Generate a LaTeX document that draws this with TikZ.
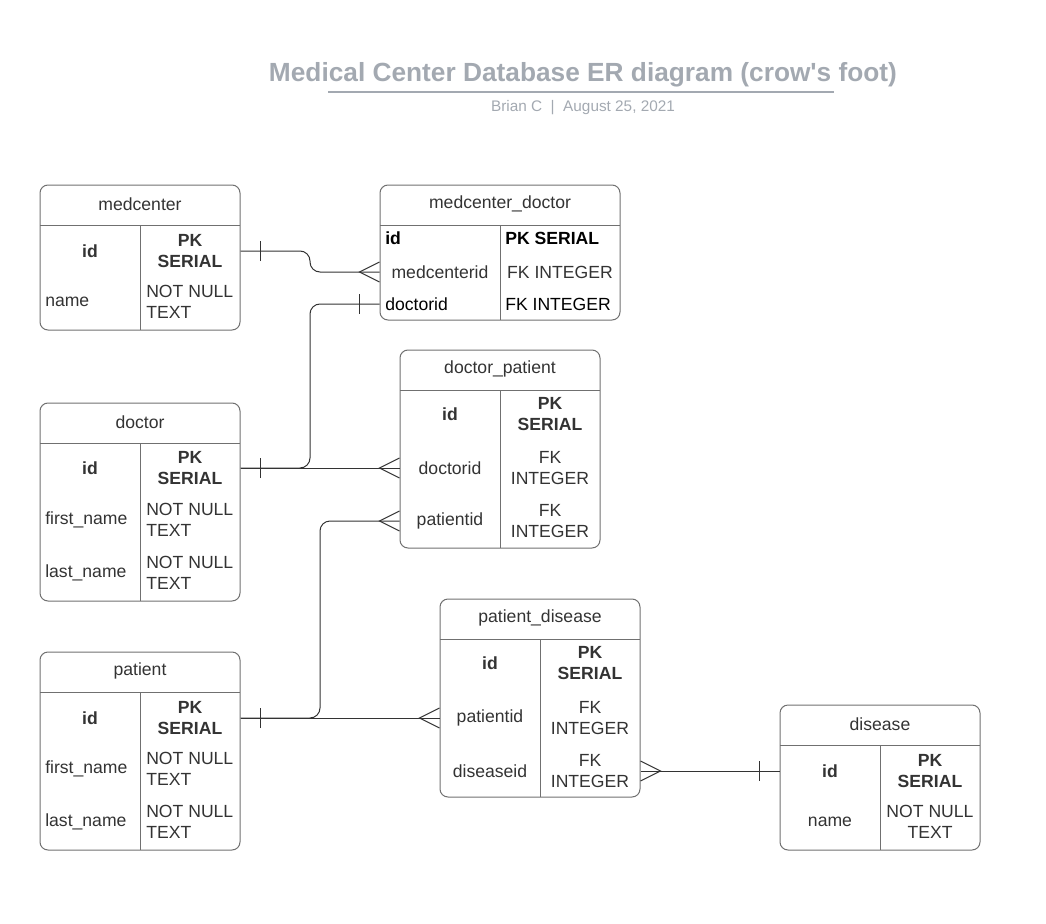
\documentclass[tikz,border=0pt]{standalone}
\usepackage{fontspec}
\setmainfont{Liberation Sans}
\usetikzlibrary{calc,fit}
\definecolor{titlegray}{HTML}{A3A9B1}
\definecolor{linegray}{HTML}{333333}
\definecolor{boxgray}{HTML}{707070}
\definecolor{textgray}{HTML}{333333}

\begin{document}
\begin{tikzpicture}[
      x=0.75pt,y=-0.75pt,
      font=\fontsize{13.2pt}{15.8pt}\selectfont,
      entity/.style={draw=boxgray,line width=0.75pt,rounded corners=6pt,inner sep=0pt},
      rule/.style={draw=boxgray,line width=0.75pt},
      field/.style={inner sep=0pt,text=textgray,align=center},
      key/.style={field,font=\fontsize{13.2pt}{15.8pt}\selectfont\bfseries},
      link/.style={draw=linegray,line width=0.75pt},
      bar/.pic={\draw[link] (-20,-10) -- (-20,10);},
      crowfoot/.pic={\draw[link] (0,-10) -- (-20,0) -- (0,10);},
      ]

    \useasboundingbox (0,0) rectangle (1046,924);

    % Title
    \node[font=\fontsize{19.7pt}{23pt}\selectfont\bfseries,text=titlegray] (title) at (583,75) {Medical Center Database ER diagram (crow\textquotesingle s foot)};
    \draw[titlegray,line width=1.5pt] (328,92) -- (834,92);
    \node[font=\fontsize{11.5pt}{13pt}\selectfont,text=titlegray] (byline) at (583,108) {Brian C~~|~~August 25, 2021};

    % Position the tables
    \node[entity,fit={(40,185) (240,330)}] (medcenter) {};
    \draw[rule] (40,225) -- (240,225) (140,225) -- (140,330);
    \node[field] (mc-head) at (140,204) {medcenter};
    \node[key] (mc-id) at (90,251) {id};
    \node[key] (mc-idt) at (190,251) {PK\\SERIAL};
    \node[field,anchor=west] (mc-name) at (45,302) {name};
    \node[field,anchor=west,align=left] (mc-namet) at (146,302) {NOT NULL\\TEXT};

    \node[entity,fit={(380,185) (620,320)}] (mcdoctor) {};
    \draw[rule] (380,225) -- (620,225) (500,225) -- (500,320);
    \node[field] (mcd-head) at (500,204) {medcenter\_doctor};
    \node[key,anchor=west,text=black] (mcd-id) at (385,238) {id};
    \node[key,anchor=west,text=black] (mcd-idt) at (505,238) {PK SERIAL};
    \node[field] (mcd-mcid) at (440,272) {medcenterid};
    \node[field] (mcd-mcidt) at (560,272) {FK INTEGER};
    \node[field,anchor=west,text=black] (mcd-docid) at (385,304) {doctorid};
    \node[field,anchor=west,text=black] (mcd-docidt) at (505,304) {FK INTEGER};

    \node[entity,fit={(400,350) (600,548)}] (docpatient) {};
    \draw[rule] (400,390) -- (600,390) (500,390) -- (500,548);
    \node[field] (dp-head) at (500,369) {doctor\_patient};
    \node[key] (dp-id) at (450,414) {id};
    \node[key] (dp-idt) at (550,414) {PK\\SERIAL};
    \node[field] (dp-docid) at (450,468) {doctorid};
    \node[field] (dp-docidt) at (550,468) {FK\\INTEGER};
    \node[field] (dp-patid) at (450,521) {patientid};
    \node[field] (dp-patidt) at (550,521) {FK\\INTEGER};

    \node[entity,fit={(40,403) (240,601)}] (doctor) {};
    \draw[rule] (40,443) -- (240,443) (140,443) -- (140,601);
    \node[field] (doc-head) at (140,422) {doctor};
    \node[key] (doc-id) at (90,468) {id};
    \node[key] (doc-idt) at (190,468) {PK\\SERIAL};
    \node[field,anchor=west] (doc-first) at (45,520) {first\_name};
    \node[field,anchor=west,align=left] (doc-firstt) at (146,520) {NOT NULL\\TEXT};
    \node[field,anchor=west] (doc-last) at (45,573) {last\_name};
    \node[field,anchor=west,align=left] (doc-lastt) at (146,573) {NOT NULL\\TEXT};

    \node[entity,fit={(40,652) (240,850)}] (patient) {};
    \draw[rule] (40,692) -- (240,692) (140,692) -- (140,850);
    \node[field] (pat-head) at (140,671) {patient};
    \node[key] (pat-id) at (90,718) {id};
    \node[key] (pat-idt) at (190,718) {PK\\SERIAL};
    \node[field,anchor=west] (pat-first) at (45,769) {first\_name};
    \node[field,anchor=west,align=left] (pat-firstt) at (146,769) {NOT NULL\\TEXT};
    \node[field,anchor=west] (pat-last) at (45,822) {last\_name};
    \node[field,anchor=west,align=left] (pat-lastt) at (146,822) {NOT NULL\\TEXT};

    \node[entity,fit={(440,599) (640,797)}] (patdisease) {};
    \draw[rule] (440,639) -- (640,639) (540,639) -- (540,797);
    \node[field] (pd-head) at (540,618) {patient\_disease};
    \node[key] (pd-id) at (490,663) {id};
    \node[key] (pd-idt) at (590,663) {PK\\SERIAL};
    \node[field] (pd-patid) at (490,718) {patientid};
    \node[field] (pd-patidt) at (590,718) {FK\\INTEGER};
    \node[field] (pd-disid) at (490,771) {diseaseid};
    \node[field] (pd-disidt) at (590,771) {FK\\INTEGER};

    \node[entity,fit={(780,705) (980,850)}] (disease) {};
    \draw[rule] (780,745) -- (980,745) (880,745) -- (880,850);
    \node[field] (dis-head) at (880,724) {disease};
    \node[key] (dis-id) at (830,771) {id};
    \node[key] (dis-idt) at (930,771) {PK\\SERIAL};
    \node[field] (dis-name) at (830,822) {name};
    \node[field] (dis-namet) at (930,822) {NOT NULL\\TEXT};

    % Draw the relations
    \coordinate (a1) at (medcenter.east |- mc-id);
    \coordinate (b1) at (mcdoctor.west |- mcd-mcid);
    \coordinate (m1) at ($(a1)!0.5!(b1)$);
    \draw[link,rounded corners=7.5pt] (a1) -| (m1 |- b1) -- (b1);
    \pic[rotate=180] at (a1) {bar};
    \pic at (b1) {crowfoot};

    \coordinate (a2) at (doctor.east |- doc-id);
    \coordinate (b2) at (mcdoctor.west |- mcd-docid);
    \coordinate (c2) at (docpatient.west |- dp-docid);
    \coordinate (m2) at ($(a2)!0.5!(b2)$);
    \draw[link,rounded corners=7.5pt] (a2) -| (m2 |- b2) -- (b2);
    \draw[link] (a2) -- (c2);
    \pic[rotate=180] at (a2) {bar};
    \pic at (b2) {bar};
    \pic at (c2) {crowfoot};

    \coordinate (a3) at (patient.east |- pat-id);
    \coordinate (b3) at (docpatient.west |- dp-patid);
    \coordinate (c3) at (patdisease.west |- pd-patid);
    \coordinate (m3) at ($(a3)!0.5!(b3)$);
    \draw[link,rounded corners=7.5pt] (a3) -| (m3 |- b3) -- (b3);
    \draw[link] (a3) -- (c3);
    \pic[rotate=180] at (a3) {bar};
    \pic at (b3) {crowfoot};
    \pic at (c3) {crowfoot};

    \coordinate (a4) at (patdisease.east |- pd-disid);
    \coordinate (b4) at (disease.west |- dis-id);
    \draw[link] (a4) -- (b4);
    \pic[rotate=180] at (a4) {crowfoot};
    \pic at (b4) {bar};

\end{tikzpicture}
\end{document}
